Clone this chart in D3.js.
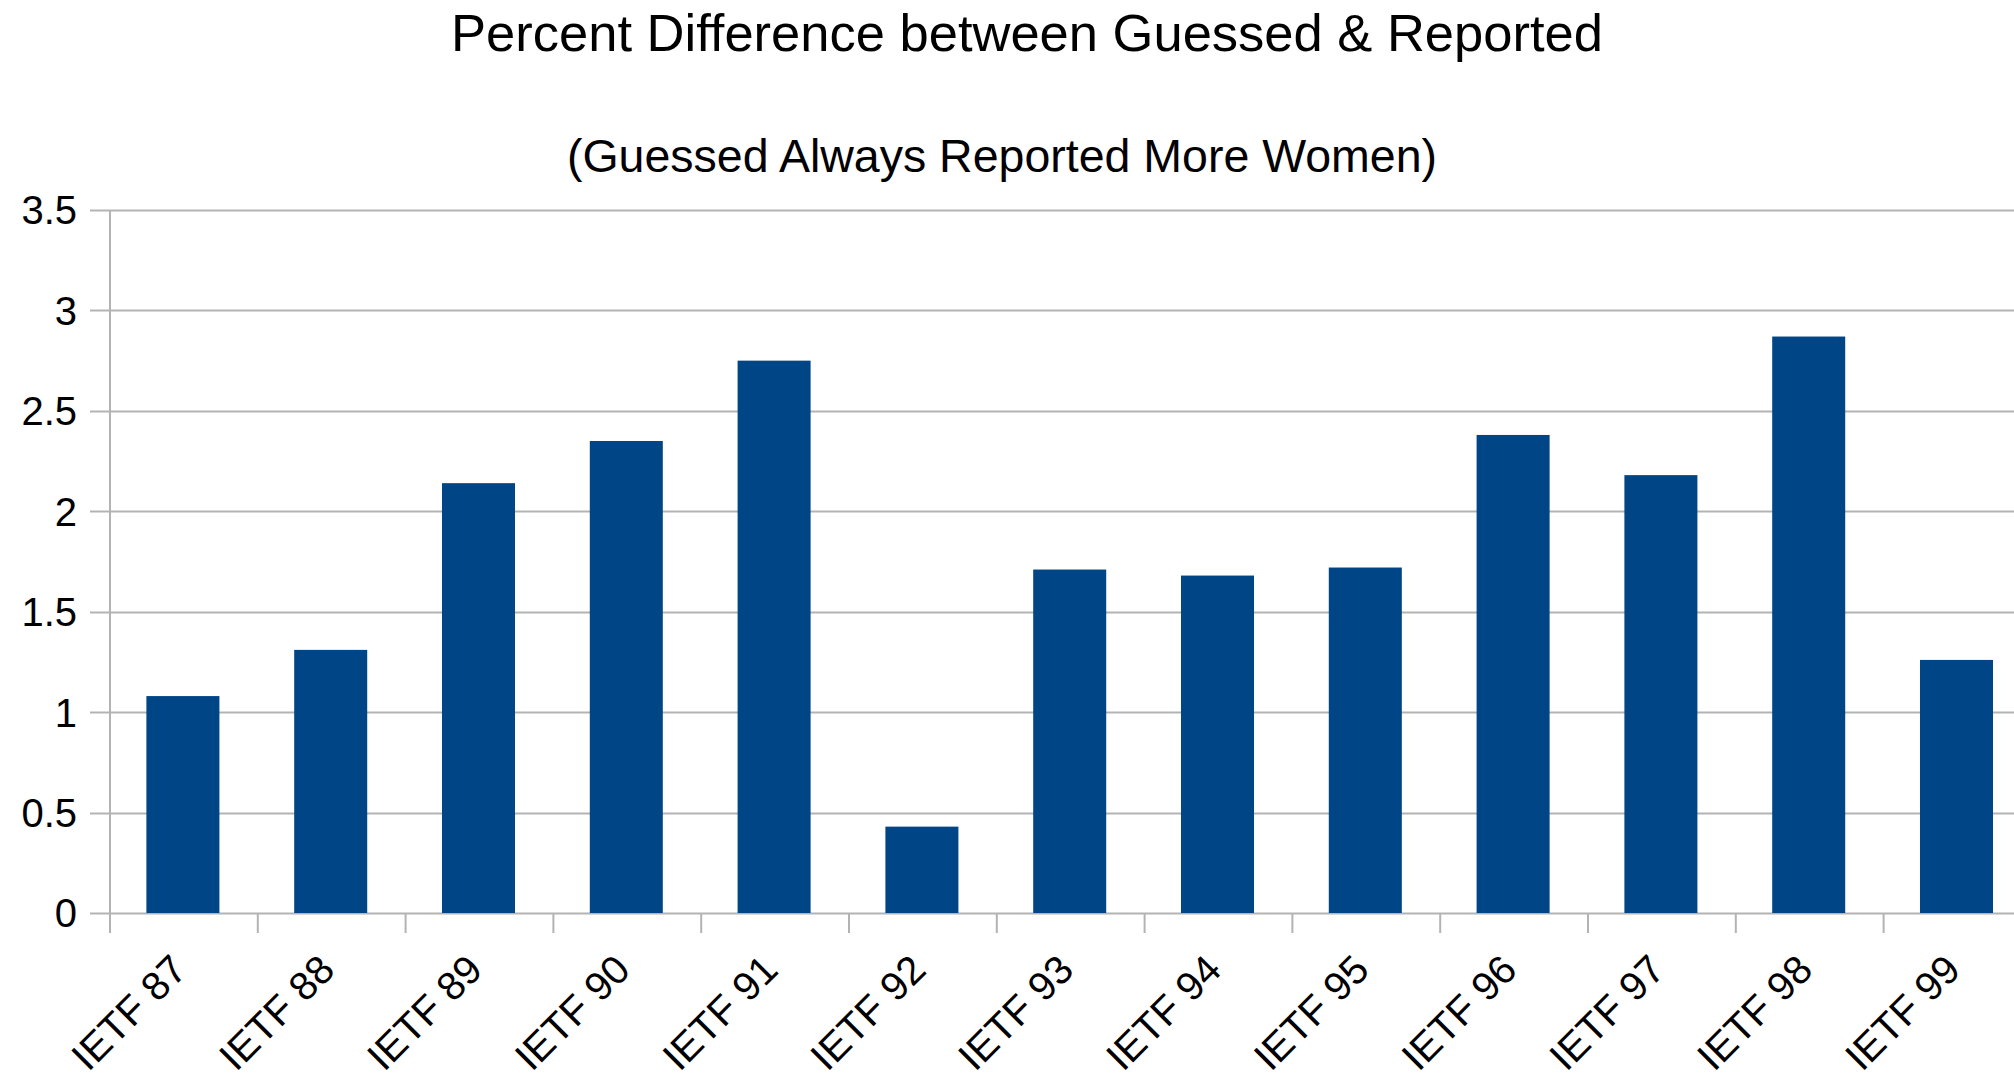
<!DOCTYPE html>
<html>
<head>
<meta charset="utf-8">
<script src="https://cdn.jsdelivr.net/npm/d3@7"></script>
<style>
  body { margin: 0; background: #fff; }
  svg { display: block; font-family: "Liberation Sans", Arial, sans-serif; }
</style>
</head>
<body>
<div id="chart-area"></div>
<script>
// data
var categories = ["IETF 87", "IETF 88", "IETF 89", "IETF 90", "IETF 91", "IETF 92", "IETF 93",
                  "IETF 94", "IETF 95", "IETF 96", "IETF 97", "IETF 98", "IETF 99"];
var values = [1.08, 1.31, 2.14, 2.35, 2.75, 0.43, 1.71, 1.68, 1.72, 2.38, 2.18, 2.87, 1.26];
var yTicks = [0, 0.5, 1, 1.5, 2, 2.5, 3, 3.5];
var titleText = "Percent Difference between Guessed & Reported";
var subtitleText = "(Guessed Always Reported More Women)";

var width = 2014, height = 1076;
var plotLeft = 109, plotTop = 210, plotBottom = 913;
var step = 147.8;

var svg = d3.select("#chart-area").append("svg").attr("width", width).attr("height", height);

var x = d3.scaleBand()
  .domain(categories)
  .range([plotLeft, plotLeft + step * categories.length])
  .paddingInner(0.506)
  .paddingOuter(0.253);

var xCat = d3.scaleBand().domain(categories).range([plotLeft, plotLeft + step * categories.length]);

var y = d3.scaleLinear().domain([0, 3.5]).range([plotBottom, plotTop]);

// gridlines
svg.append("g").selectAll("line")
  .data(yTicks)
  .enter().append("line")
  .attr("x1", 90).attr("x2", width)
  .attr("y1", d => Math.round(y(d)) + 0.5).attr("y2", d => Math.round(y(d)) + 0.5)
  .attr("stroke", "#b3b3b3").attr("stroke-width", 2);

// y axis line
svg.append("line")
  .attr("x1", plotLeft + 1).attr("x2", plotLeft + 1)
  .attr("y1", y(3.5)).attr("y2", plotBottom + 20)
  .attr("stroke", "#b3b3b3").attr("stroke-width", 2);

// x tick marks at category boundaries
svg.append("g").selectAll("line")
  .data(categories)
  .enter().append("line")
  .attr("x1", d => xCat(d) + 1).attr("x2", d => xCat(d) + 1)
  .attr("y1", plotBottom).attr("y2", plotBottom + 20)
  .attr("stroke", "#b3b3b3").attr("stroke-width", 2);

// bars
svg.append("g").selectAll("rect")
  .data(values)
  .enter().append("rect")
  .attr("x", (d, i) => x(categories[i]))
  .attr("width", x.bandwidth())
  .attr("y", d => y(d))
  .attr("height", d => y(0) - y(d))
  .attr("fill", "#004586");

// y labels
svg.append("g").selectAll("text")
  .data(yTicks)
  .enter().append("text")
  .attr("x", 77).attr("y", d => y(d))
  .attr("dy", "0.36em")
  .attr("text-anchor", "end")
  .attr("font-size", "40px")
  .attr("fill", "#000")
  .text(d => d);

// x labels, rotated
svg.append("g").selectAll("text")
  .data(categories)
  .enter().append("text")
  .attr("transform", d => "translate(" + (xCat(d) + xCat.bandwidth() / 2 + 6) + "," + (plotBottom + 59) + ") rotate(-45)")
  .attr("text-anchor", "end")
  .attr("font-size", "40px")
  .attr("fill", "#000")
  .text(d => d);

// titles
svg.append("text")
  .attr("x", 1027).attr("y", 51)
  .attr("text-anchor", "middle")
  .attr("font-size", "52.5px")
  .attr("fill", "#000")
  .text(titleText);

svg.append("text")
  .attr("x", 1002).attr("y", 172)
  .attr("text-anchor", "middle")
  .attr("font-size", "46.5px")
  .attr("fill", "#000")
  .text(subtitleText);
</script>
</body>
</html>
